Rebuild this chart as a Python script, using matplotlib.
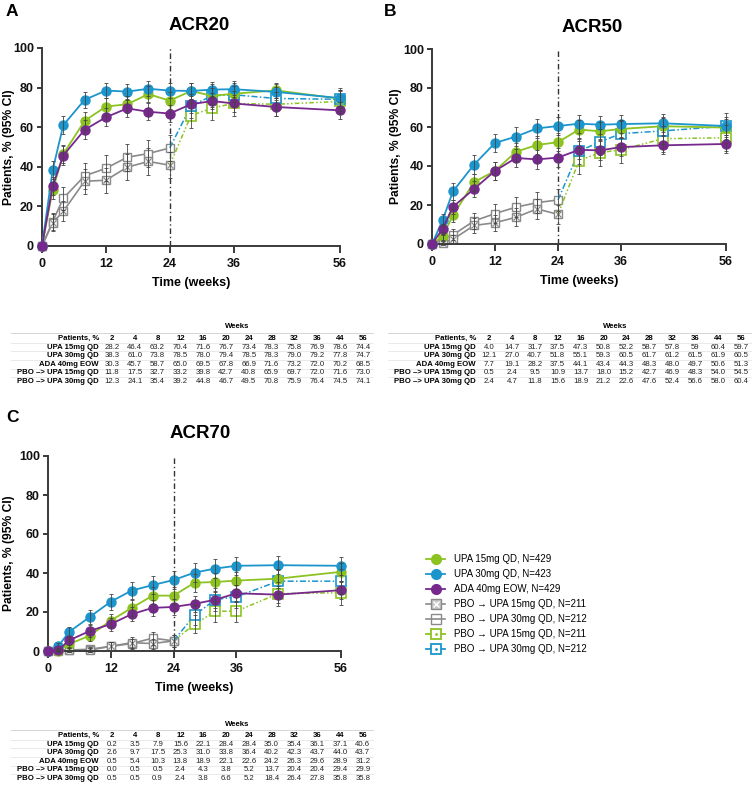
import numpy as np
import matplotlib
matplotlib.use("Agg")
import matplotlib.pyplot as plt
from matplotlib.lines import Line2D
from matplotlib.legend_handler import HandlerTuple

plt.rcParams["font.family"] = ["Liberation Sans", "DejaVu Sans"]

weeks = [0, 2, 4, 8, 12, 16, 20, 24, 28, 32, 36, 44, 56]
table_weeks = weeks[1:]

# ACR20
acr20_upa15 = [0, 28.2, 46.4, 63.2, 70.4, 71.6, 76.7, 73.4, 78.3, 75.8, 76.9, 78.6, 74.4]
acr20_upa30 = [0, 38.3, 61.0, 73.8, 78.5, 78.0, 79.4, 78.5, 78.3, 79.0, 79.2, 77.8, 74.7]
acr20_ada = [0, 30.3, 45.7, 58.7, 65.0, 69.5, 67.8, 66.9, 71.6, 73.2, 72.0, 70.2, 68.5]
acr20_pbo15 = [0, 11.8, 17.5, 32.7, 33.2, 39.8, 42.7, 40.8, 65.9, 69.7, 72.0, 71.6, 73.0]
acr20_pbo30 = [0, 12.3, 24.1, 35.4, 39.2, 44.8, 46.7, 49.5, 70.8, 75.9, 76.4, 74.5, 74.1]

# ACR50
acr50_upa15 = [0, 4.0, 14.7, 31.7, 37.5, 47.3, 50.8, 52.2, 58.7, 57.8, 59, 60.4, 59.7]
acr50_upa30 = [0, 12.1, 27.0, 40.7, 51.8, 55.1, 59.3, 60.5, 61.7, 61.2, 61.5, 61.9, 60.5]
acr50_ada = [0, 7.7, 19.1, 28.2, 37.5, 44.1, 43.4, 44.3, 48.3, 48.0, 49.7, 50.6, 51.3]
acr50_pbo15 = [0, 0.5, 2.4, 9.5, 10.9, 13.7, 18.0, 15.2, 42.7, 46.9, 48.3, 54.0, 54.5]
acr50_pbo30 = [0, 2.4, 4.7, 11.8, 15.6, 18.9, 21.2, 22.6, 47.6, 52.4, 56.6, 58.0, 60.4]

# ACR70
acr70_upa15 = [0, 0.2, 3.5, 7.9, 15.6, 22.1, 28.4, 28.4, 35.0, 35.4, 36.1, 37.1, 40.6]
acr70_upa30 = [0, 2.6, 9.7, 17.5, 25.3, 31.0, 33.8, 36.4, 40.2, 42.3, 43.7, 44.0, 43.7]
acr70_ada = [0, 0.5, 5.4, 10.3, 13.8, 18.9, 22.1, 22.6, 24.2, 26.3, 29.6, 28.9, 31.2]
acr70_pbo15 = [0, 0.0, 0.5, 0.5, 2.4, 4.3, 3.8, 5.2, 13.7, 20.4, 20.4, 29.4, 29.9]
acr70_pbo30 = [0, 0.5, 0.5, 0.9, 2.4, 3.8, 6.6, 5.2, 18.4, 26.4, 27.8, 35.8, 35.8]

# 95% CI half widths (weeks 2..56)
ci20_upa15 = [4.3, 4.7, 4.6, 4.3, 4.3, 4.0, 4.2, 3.9, 4.1, 4.0, 3.9, 4.1]
ci20_upa30 = [4.6, 4.6, 4.2, 3.9, 3.9, 3.8, 3.9, 3.9, 3.9, 3.9, 4.0, 4.1]
ci20_ada = [4.3, 4.7, 4.7, 4.5, 4.4, 4.4, 4.5, 4.3, 4.2, 4.3, 4.3, 4.4]
ci20_pbo15 = [4.4, 5.1, 6.3, 6.4, 6.6, 6.7, 6.6, 6.4, 6.2, 6.1, 6.1, 6.0]
ci20_pbo30 = [4.4, 5.8, 6.4, 6.6, 6.7, 6.7, 6.7, 6.1, 5.8, 5.7, 5.9, 5.9]

ci50_upa15 = [1.9, 3.4, 4.4, 4.6, 4.7, 4.7, 4.7, 4.7, 4.7, 4.7, 4.6, 4.6]
ci50_upa30 = [3.1, 4.2, 4.7, 4.8, 4.7, 4.7, 4.7, 4.6, 4.6, 4.6, 4.6, 4.7]
ci50_ada = [2.5, 3.7, 4.3, 4.6, 4.7, 4.7, 4.7, 4.7, 4.7, 4.7, 4.7, 4.7]
ci50_pbo15 = [0.9, 2.1, 4.0, 4.2, 4.6, 5.2, 4.8, 6.7, 6.7, 6.7, 6.7, 6.7]
ci50_pbo30 = [2.1, 2.8, 4.3, 4.9, 5.3, 5.5, 5.6, 6.7, 6.7, 6.7, 6.6, 6.6]

ci70_upa15 = [0.4, 1.7, 2.6, 3.4, 3.9, 4.3, 4.3, 4.5, 4.5, 4.5, 4.6, 4.6]
ci70_upa30 = [1.5, 2.8, 3.6, 4.1, 4.4, 4.5, 4.6, 4.7, 4.7, 4.7, 4.7, 4.7]
ci70_ada = [0.7, 2.1, 2.9, 3.3, 3.7, 3.9, 4.0, 4.1, 4.2, 4.3, 4.3, 4.4]
ci70_pbo15 = [0.0, 0.9, 0.9, 2.1, 2.7, 2.6, 3.0, 4.6, 5.4, 5.4, 6.1, 6.2]
ci70_pbo30 = [0.9, 0.9, 1.3, 2.1, 2.6, 3.3, 3.0, 5.2, 5.9, 6.0, 6.4, 6.4]

row_labels = ["UPA 15mg QD", "UPA 30mg QD", "ADA 40mg EOW",
              "PBO \u2013> UPA 15mg QD", "PBO \u2013> UPA 30mg QD"]
legend_labels = ["UPA 15mg QD, N=429", "UPA 30mg QD, N=423", "ADA 40mg EOW, N=429",
                 "PBO \u2192 UPA 15mg QD, N=211", "PBO \u2192 UPA 30mg QD, N=212",
                 "PBO \u2192 UPA 15mg QD, N=211", "PBO \u2192 UPA 30mg QD, N=212"]

GREEN = "#8cc320"
BLUE = "#1c95cd"
PURPLE = "#76288c"
GREY = "#8a8a8a"
ERR = "#444444"
AX = "#3a3a3a"
SWITCH = 24

W, H = 754, 786
fig = plt.figure(figsize=(W / 100, H / 100), dpi=100)


def fx(x):
    return x / W


def fy(y):
    return 1 - y / H


def errbars(ax, x, y, e):
    ax.errorbar(x, y, yerr=e, fmt="none", ecolor=ERR, elinewidth=0.6,
                capsize=1.6, capthick=0.6, zorder=5, clip_on=False)


def draw_panel(rect, ylab_dx, letter, letter_xy, title, title_xy, data, cis):
    upa15, upa30, ada, pbo15, pbo30 = data
    c15, c30, cada, cp15, cp30 = cis
    ax = fig.add_axes(rect)
    wk = np.array(weeks)
    pre = wk <= SWITCH
    post = wk >= SWITCH

    ax.axvline(SWITCH, color="#333333", lw=1.0, ls=(0, (4, 2, 1, 2)), zorder=1)

    solid = dict(lw=1.3, marker="o", ms=6.5, clip_on=False, zorder=3)
    ax.plot(wk, upa15, color=GREEN, **solid)
    ax.plot(wk, upa30, color=BLUE, **solid)
    ax.plot(wk, ada, color=PURPLE, **solid)

    # placebo period (grey)
    p15 = np.array(pbo15)
    p30 = np.array(pbo30)
    sq = dict(marker="s", ms=6, mfc="white", mew=1.0, clip_on=False)
    ax.plot(wk[pre], p30[pre], color=GREY, lw=1.2, zorder=2, **sq)
    ax.plot(wk[pre], p15[pre], color=GREY, lw=1.2, zorder=2, **sq)
    ax.plot(wk[pre], p15[pre], ls="none", marker="x", ms=4.2, mew=0.9,
            color=GREY, zorder=2.5, clip_on=False)

    # after switch to UPA
    ax.plot(wk[post], p15[post], color=GREEN, lw=1.1, ls=(0, (3, 1.5, 1, 1.5, 1, 1.5)),
            zorder=2, clip_on=False)
    ax.plot(wk[post], p30[post], color=BLUE, lw=1.1, ls=(0, (4, 1.5, 1, 1.5)),
            zorder=2, clip_on=False)
    sq2 = dict(ls="none", marker="s", ms=6.5, mfc="white", mew=1.2, clip_on=False, zorder=2.6)
    ax.plot(wk[wk > SWITCH], p15[wk > SWITCH], mec=GREEN, **sq2)
    ax.plot(wk[wk > SWITCH], p30[wk > SWITCH], mec=BLUE, **sq2)

    x1 = wk[1:]
    errbars(ax, x1, upa15[1:], c15)
    errbars(ax, x1, upa30[1:], c30)
    errbars(ax, x1, ada[1:], cada)
    errbars(ax, x1, pbo15[1:], cp15)
    errbars(ax, x1, pbo30[1:], cp30)

    ax.set_xlim(0, 56)
    ax.set_ylim(0, 100)
    ax.set_xticks([0, 12, 24, 36, 56])
    ax.set_yticks([0, 20, 40, 60, 80, 100])
    for s in ["top", "right"]:
        ax.spines[s].set_visible(False)
    for s in ["left", "bottom"]:
        ax.spines[s].set_color(AX)
        ax.spines[s].set_linewidth(1.4)
    ax.tick_params(direction="out", length=3.8, width=1.4, color=AX, pad=2)
    ax.tick_params(axis="x", length=5, pad=3.5)
    for lab in ax.get_xticklabels() + ax.get_yticklabels():
        lab.set_fontsize(9)
        lab.set_fontweight("bold")
        lab.set_color("#111111")
    ax.set_xlabel("Time (weeks)", fontsize=9, fontweight="bold", labelpad=5)
    ax.set_ylabel("Patients, % (95% CI)", fontsize=8.7, fontweight="bold")
    ax.yaxis.set_label_coords(ylab_dx / (rect[2] * W), 0.5)

    fig.text(fx(letter_xy[0]), fy(letter_xy[1]), letter, fontsize=12.5,
             fontweight="bold", ha="left", va="center")
    fig.text(fx(title_xy[0]), fy(title_xy[1]), title, fontsize=13.5,
             fontweight="bold", ha="center", va="center")
    return ax


def draw_table(x_lab, x0, dx, y_top, data):
    # y_top: pixel row of "Weeks"
    xs = [x0 + i * dx for i in range(len(table_weeks))]
    fs = 5.6
    fig.text(fx((xs[0] + xs[-1]) / 2), fy(y_top), "Weeks", fontsize=fs,
             fontweight="bold", ha="center", va="center")
    y_head = y_top + 11.5
    line_x0, line_x1 = x_lab - 88, xs[-1] + 10
    fig.add_artist(Line2D([fx(line_x0), fx(line_x1)], [fy(y_top + 6), fy(y_top + 6)],
                          color="#d0d0d0", lw=0.6))
    fig.text(fx(x_lab), fy(y_head), "Patients, %", fontsize=fs, fontweight="bold",
             ha="right", va="center")
    for x, w in zip(xs, table_weeks):
        fig.text(fx(x), fy(y_head), str(w), fontsize=fs, fontweight="bold",
                 ha="center", va="center")
    for r, (lab, vals) in enumerate(zip(row_labels, data)):
        y = y_head + 8.6 * (r + 1)
        fig.add_artist(Line2D([fx(line_x0), fx(line_x1)], [fy(y - 4.3), fy(y - 4.3)],
                              color="#e2e2e2", lw=0.5))
        fig.text(fx(x_lab), fy(y), lab, fontsize=fs, fontweight="bold",
                 ha="right", va="center")
        for x, v in zip(xs, vals[1:]):
            fig.text(fx(x), fy(y), str(v), fontsize=fs, ha="center", va="center",
                     color="#222222")


data20 = [acr20_upa15, acr20_upa30, acr20_ada, acr20_pbo15, acr20_pbo30]
data50 = [acr50_upa15, acr50_upa30, acr50_ada, acr50_pbo15, acr50_pbo30]
data70 = [acr70_upa15, acr70_upa30, acr70_ada, acr70_pbo15, acr70_pbo30]
cis20 = [ci20_upa15, ci20_upa30, ci20_ada, ci20_pbo15, ci20_pbo30]
cis50 = [ci50_upa15, ci50_upa30, ci50_ada, ci50_pbo15, ci50_pbo30]
cis70 = [ci70_upa15, ci70_upa30, ci70_ada, ci70_pbo15, ci70_pbo30]

draw_panel([fx(42), fy(246), 298 / W, 198 / H], -27, "A", (6, 12), "ACR20", (199, 25), data20, cis20)
draw_panel([fx(432), fy(244), 294 / W, 195 / H], -30, "B", (384, 12), "ACR50", (592, 28), data50, cis50)
draw_panel([fx(48), fy(651), 293 / W, 195 / H], -33, "C", (6, 418), "ACR70", (200, 433), data70, cis70)

draw_table(99, 112, 22.8, 327, data20)
draw_table(476, 489, 22.9, 327, data50)
draw_table(99, 112, 22.8, 724, data70)

# legend
h15 = Line2D([], [], color=GREEN, lw=1.3, marker="o", ms=7)
h30 = Line2D([], [], color=BLUE, lw=1.3, marker="o", ms=7)
hada = Line2D([], [], color=PURPLE, lw=1.3, marker="o", ms=7)
hp15 = (Line2D([], [], color=GREY, lw=1.2, marker="s", ms=7, mfc="#c8c8c8", mew=1.0),
        Line2D([], [], ls="none", color="white", marker="x", ms=4.5, mew=1.0))
hp30 = Line2D([], [], color=GREY, lw=1.2, marker="s", ms=6.5, mfc="none", mew=1.0)
hs15 = (Line2D([], [], color=GREEN, lw=1.3, marker="s", ms=7, mfc="white", mew=1.3),
        Line2D([], [], ls="none", color=GREEN, marker=".", ms=2))
hs30 = (Line2D([], [], color=BLUE, lw=1.3, marker="s", ms=7, mfc="white", mew=1.3),
        Line2D([], [], ls="none", color=BLUE, marker=".", ms=2))
fig.legend([h15, h30, hada, hp15, hp30, hs15, hs30], legend_labels,
           handler_map={tuple: HandlerTuple(ndivide=1, pad=0)},
           loc="upper left", bbox_to_anchor=(fx(426), fy(554)), frameon=False,
           fontsize=7, handlelength=2.0, handletextpad=0.9, labelspacing=0.52,
           borderaxespad=0, borderpad=0)

fig.savefig("out.png", dpi=100)
